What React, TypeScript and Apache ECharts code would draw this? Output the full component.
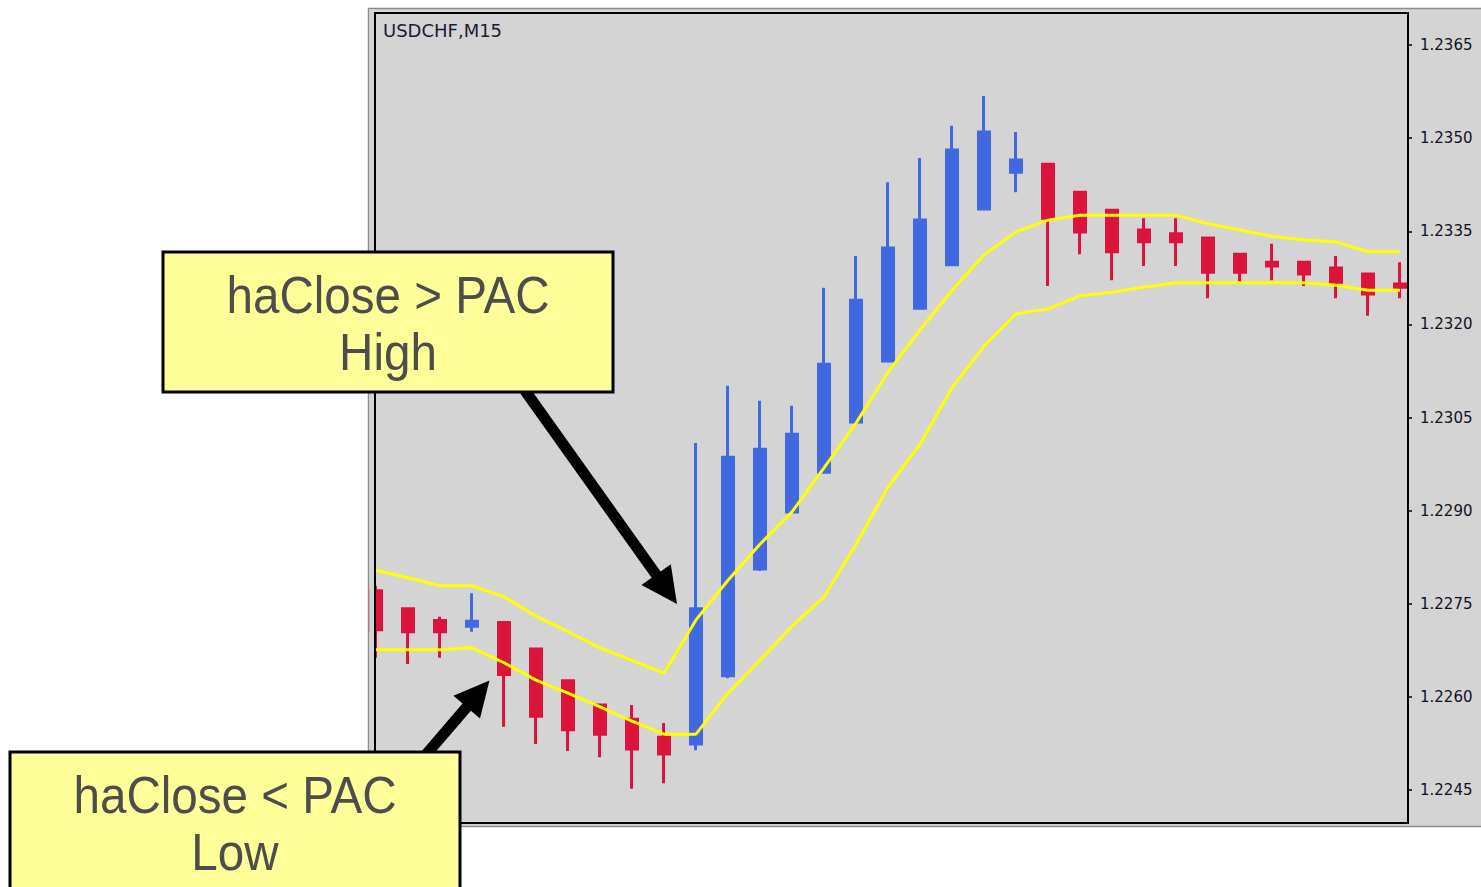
import React, { useEffect, useRef } from "react";
import * as echarts from "echarts";

// bar numbers (M15 bars, left to right)
const bars = [0, 1, 2, 3, 4, 5, 6, 7, 8, 9, 10, 11, 12, 13, 14, 15, 16, 17, 18, 19, 20, 21, 22, 23, 24, 25, 26, 27, 28, 29, 30, 31, 32];

const opens = [1.22771, 1.22742, 1.22723, 1.22714, 1.2272, 1.22677, 1.22626, 1.22587, 1.22564, 1.22535, 1.22524, 1.22634, 1.22806, 1.22898, 1.22962, 1.23043, 1.23141, 1.23226, 1.23296, 1.23386, 1.23445, 1.23458, 1.23413, 1.23384, 1.23352, 1.23346, 1.23339, 1.23313, 1.233, 1.233, 1.23291, 1.23281, 1.23265];
const closes = [1.22708, 1.22705, 1.22705, 1.22722, 1.22636, 1.22569, 1.22547, 1.2254, 1.22516, 1.22508, 1.22742, 1.22986, 1.22999, 1.23023, 1.23136, 1.23239, 1.23323, 1.23368, 1.23481, 1.2351, 1.23465, 1.23371, 1.23349, 1.23317, 1.23333, 1.23333, 1.23284, 1.23284, 1.23294, 1.23281, 1.23268, 1.23249, 1.2326];
const lows = [1.22663, 1.22653, 1.22663, 1.22705, 1.22552, 1.22524, 1.22513, 1.22503, 1.22452, 1.22461, 1.22514, 1.2263, 1.22803, 1.22896, 1.2296, 1.23041, 1.23139, 1.23225, 1.23294, 1.23384, 1.23413, 1.23262, 1.23313, 1.23271, 1.23294, 1.23294, 1.23242, 1.23267, 1.23271, 1.23262, 1.23242, 1.23214, 1.23242];
const highs = [1.22779, 1.22742, 1.22729, 1.22767, 1.2272, 1.22677, 1.22626, 1.22587, 1.22587, 1.22558, 1.23009, 1.23101, 1.23077, 1.23069, 1.23259, 1.2331, 1.23429, 1.23468, 1.2352, 1.23568, 1.2351, 1.23458, 1.23413, 1.23384, 1.23371, 1.23371, 1.23339, 1.23313, 1.2333, 1.233, 1.2331, 1.23281, 1.233];

// Price Action Channel (PAC) high / low
const pacHigh = [1.22804, 1.22792, 1.22779, 1.22779, 1.22761, 1.2273, 1.22705, 1.22679, 1.22659, 1.22638, 1.22724, 1.22788, 1.22846, 1.22898, 1.22969, 1.23041, 1.23123, 1.23191, 1.23255, 1.23312, 1.23349, 1.23368, 1.23376, 1.23376, 1.23376, 1.23376, 1.23362, 1.23352, 1.23342, 1.23336, 1.23333, 1.23317, 1.23317];
const pacLow = [1.22676, 1.22676, 1.22676, 1.22679, 1.22655, 1.22627, 1.22606, 1.22584, 1.22561, 1.2254, 1.2254, 1.22606, 1.22659, 1.22714, 1.22761, 1.22846, 1.22938, 1.23007, 1.23098, 1.23165, 1.23217, 1.23225, 1.23246, 1.23252, 1.2326, 1.23267, 1.23267, 1.23267, 1.23267, 1.23267, 1.23263, 1.23255, 1.23255];

const priceTicks = [1.2245, 1.226, 1.2275, 1.229, 1.2305, 1.232, 1.2335, 1.235, 1.2365];

const chartTitle = "USDCHF,M15";
const noteHigh = ["haClose > PAC", "High"];
const noteLow = ["haClose < PAC", "Low"];

function arrowPts(x1: number, y1: number, x2: number, y2: number, sw: number, hl: number, hw: number) {
  const dx = x2 - x1, dy = y2 - y1, L = Math.hypot(dx, dy);
  const ux = dx / L, uy = dy / L;
  const nx = -uy, ny = ux;
  const bx = x2 - ux * hl, by = y2 - uy * hl;
  return [
    [x1 + nx * sw, y1 + ny * sw],
    [bx + nx * sw, by + ny * sw],
    [bx + nx * hw, by + ny * hw],
    [x2, y2],
    [bx - nx * hw, by - ny * hw],
    [bx - nx * sw, by - ny * sw],
    [x1 - nx * sw, y1 - ny * sw],
  ];
}

function noteBox(x: number, y: number, w: number, h: number, lines: string[], cx: number, y1: number, y2: number) {
  const font = '52px "Liberation Sans", Arial, sans-serif';
  return [
    {
      type: "rect",
      z: 60,
      shape: { x, y, width: w, height: h },
      style: { fill: "#ffff99", stroke: "#000000", lineWidth: 3 },
    },
    {
      type: "text",
      z: 61,
      x: cx,
      y: y1,
      scaleX: 0.915,
      style: { text: lines[0], font, fill: "#4d4d4d", textAlign: "center", textVerticalAlign: "middle" },
    },
    {
      type: "text",
      z: 61,
      x: cx,
      y: y2,
      scaleX: 0.915,
      style: { text: lines[1], font, fill: "#4d4d4d", textAlign: "center", textVerticalAlign: "middle" },
    },
  ];
}

export default function App() {
  const ref = useRef<HTMLDivElement>(null);
  useEffect(() => {
    const chart = echarts.init(ref.current!, null, { renderer: "svg" });
    const candleData = bars.map((b, i) => [b, opens[i], closes[i], lows[i], highs[i]]);
    const hiData = bars.map((b, i) => [b, pacHigh[i]]);
    const loData = bars.map((b, i) => [b, pacLow[i]]);

    chart.setOption({
      animation: false,
      grid: { left: 375, top: 13, width: 1033, height: 810, show: false },
      xAxis: { type: "value", min: -0.03125, max: 32.25, show: false, splitLine: { show: false } },
      yAxis: {
        type: "value",
        position: "right",
        min: 1.223969,
        max: 1.237016,
        axisLine: { show: false, onZero: false },
        splitLine: { show: false },
        axisTick: { show: true, inside: false, length: 4, lineStyle: { color: "#000", width: 1.5 }, customValues: priceTicks },
        axisLabel: {
          customValues: priceTicks,
          formatter: (v: number) => v.toFixed(4),
          margin: 12,
          color: "#111122",
          fontFamily: '"DejaVu Sans", sans-serif',
          fontSize: 15,
        },
      },
      series: [
        {
          type: "candlestick",
          data: candleData,
          encode: { x: 0, y: [1, 2, 3, 4] },
          barWidth: 11,
          clip: true,
          z: 2,
          itemStyle: {
            color: "#4169e1",
            color0: "#dc143c",
            borderColor: "#4169e1",
            borderColor0: "#dc143c",
            borderWidth: 3,
          },
        },
        {
          type: "line",
          data: hiData,
          showSymbol: false,
          clip: true,
          z: 3,
          lineStyle: { color: "#ffff00", width: 3 },
        },
        {
          type: "line",
          data: loData,
          showSymbol: false,
          clip: true,
          z: 3,
          lineStyle: { color: "#ffff00", width: 3 },
        },
      ],
      graphic: [
        {
          type: "rect",
          z: -1,
          shape: { x: 368.5, y: 8.5, width: 1120, height: 818 },
          style: { fill: "#d4d4d4", stroke: "#8c8c8c", lineWidth: 1.5 },
        },
        {
          type: "rect",
          z: 4,
          shape: { x: 369.3, y: 9.3, width: 5.7, height: 816 },
          style: { fill: "#d4d4d4" },
        },
        {
          type: "rect",
          z: 5,
          shape: { x: 375, y: 13, width: 1033, height: 810 },
          style: { fill: "none", stroke: "#000000", lineWidth: 2 },
        },
        {
          type: "text",
          z: 6,
          x: 383,
          y: 30,
          style: { text: chartTitle, font: '18px "DejaVu Sans", sans-serif', fill: "#1a1a33", textAlign: "left", textVerticalAlign: "middle" },
        },
        {
          type: "polygon",
          z: 50,
          shape: { points: arrowPts(521, 385, 677, 604, 5.5, 36, 18) },
          style: { fill: "#000000" },
        },
        {
          type: "polygon",
          z: 50,
          shape: { points: arrowPts(417, 765, 489.5, 680.5, 5.5, 35, 17.5) },
          style: { fill: "#000000" },
        },
        ...noteBox(163, 252, 450, 140, noteHigh, 388, 295, 352),
        ...noteBox(10, 752, 450, 150, noteLow, 235, 795, 852),
      ],
    });
    return () => chart.dispose();
  }, []);
  return <div ref={ref} style={{ position: "absolute", left: 0, top: 0, width: 1481, height: 887 }} />;
}
